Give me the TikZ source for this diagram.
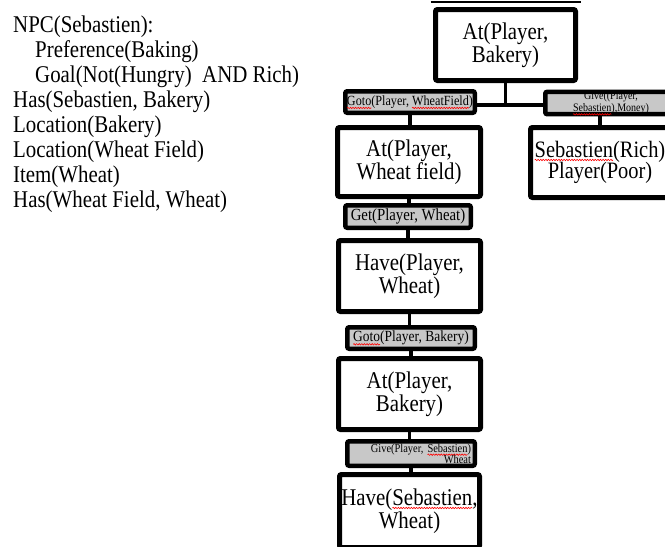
\documentclass[tikz,border=0pt]{standalone}
\usepackage{fontspec}
\setmainfont[FakeStretch=0.87]{Liberation Serif}
\usetikzlibrary{decorations.pathmorphing}
\definecolor{boxgray}{RGB}{200,200,200}
\newcommand\fs[2]{\fontsize{#1}{#2}\selectfont}
% red wavy underline, as a spell checker marks unknown words
\newsavebox\spbox
\newcommand\spellmark[1]{\leavevmode\sbox\spbox{#1}\rlap{\tikz[overlay]\draw[red, line width=0.6pt, sharp corners, fill=none,
  decorate, decoration={snake, amplitude=0.7pt, segment length=2.6pt}] (0pt,-2.6pt) -- (\the\wd\spbox,-2.6pt);}\usebox\spbox}
\begin{document}
\begin{tikzpicture}[x=1pt,y=-1pt,
  state/.style={draw=black, line width=5pt, rounded corners=2pt, fill=white,
    inner sep=0pt, align=center, font=\fs{24}{21.5}},
  act/.style={draw=black, line width=4.5pt, rounded corners=2pt, fill=boxgray,
    inner sep=0pt, align=center},
  link/.style={line width=3.5pt},
  fact/.style={anchor=base west, inner sep=0pt, font=\fs{24}{25}}]
\useasboundingbox (0,0) rectangle (665,547);
\clip (0,0) rectangle (665,547);

% facts of the world
\node[fact] (f1) at (13,32)    {NPC(Sebastien):};
\node[fact] (f2) at (35,57.1)  {Preference(Baking)};
\node[fact] (f3) at (35,82.2)  {Goal(Not(Hungry)~ AND Rich)};
\node[fact] (f4) at (13,107.3) {Has(Sebastien, Bakery)};
\node[fact] (f5) at (13,132.4) {Location(Bakery)};
\node[fact] (f6) at (13,157.5) {Location(Wheat Field)};
\node[fact] (f7) at (13,182.6) {Item(Wheat)};
\node[fact] (f8) at (13,207.7) {Has(Wheat Field, Wheat)};

% states
\node[state, minimum width=140pt, minimum height=71pt] (top) at (505.5,45) {At(Player,\\Bakery)};
\node[state, minimum width=143pt, minimum height=69pt] (atwf) at (409,162) {At(Player,\\Wheat field)};
\node[state, minimum width=139pt, minimum height=70pt, font=\fs{23.5}{21.5}] (sebr) at (600,162.5) {\spellmark{Sebastien}(Rich)\\Player(Poor)};
\node[state, minimum width=142pt, minimum height=71pt] (havepw) at (409.5,276) {Have(Player,\\Wheat)};
\node[state, minimum width=142pt, minimum height=71pt] (atb) at (409.5,394) {At(Player,\\Bakery)};
\node[state, minimum width=140pt, minimum height=73pt] (havesw) at (409.5,511) {Have(\spellmark{Sebastien},\\Wheat)};

% actions
\node[act, minimum width=129.5pt, minimum height=21.5pt, font=\fs{14}{12}] (gotowf) at (410,102) {\spellmark{Goto}(Player, \spellmark{WheatField})};
\node[act, minimum width=131.5pt, minimum height=19.5pt, font=\fs{11.5}{12}] (givem) at (611,103) {Give((Player,\\\spellmark{Sebastien}),Money)};
\node[act, minimum width=125.5pt, minimum height=22.5pt, font=\fs{17}{14}] (get) at (408,216.5) {Get(Player, Wheat)};
\node[act, minimum width=127.5pt, minimum height=21.5pt, font=\fs{15.5}{14}] (gotob) at (411,338) {\spellmark{Goto}(Player, Bakery)};
\node[act, minimum width=127.5pt, minimum height=24.5pt, font=\fs{12}{11}, align=right, text width=120pt] (givew) at (411,453.5) {Give(Player, \spellmark{Sebastien})\\Wheat};

% rule over the goal state
\draw[line width=2pt] ([xshift=-2.5pt,yshift=5.5pt]top.north west) -- ([xshift=2.5pt,yshift=5.5pt]top.north east);

% connectors
\coordinate (j) at (505.5,105);
\draw[link] (top.south) -- (j);
\draw[link] (gotowf.east |- j) -- (givem.west |- j);
\draw[link] (sebr.north |- givem.south) -- (sebr.north);
\draw[link] (gotowf.south) -- (gotowf.south |- atwf.north);
\draw[link] (atwf.south) -- (atwf.south |- get.north);
\draw[link] (get.south) -- (get.south |- havepw.north);
\draw[link] (havepw.south) -- (havepw.south |- gotob.north);
\draw[link] (gotob.south) -- (gotob.south |- atb.north);
\draw[link] (atb.south) -- (atb.south |- givew.north);
\draw[link] (givew.south) -- (givew.south |- havesw.north);
\end{tikzpicture}
\end{document}
